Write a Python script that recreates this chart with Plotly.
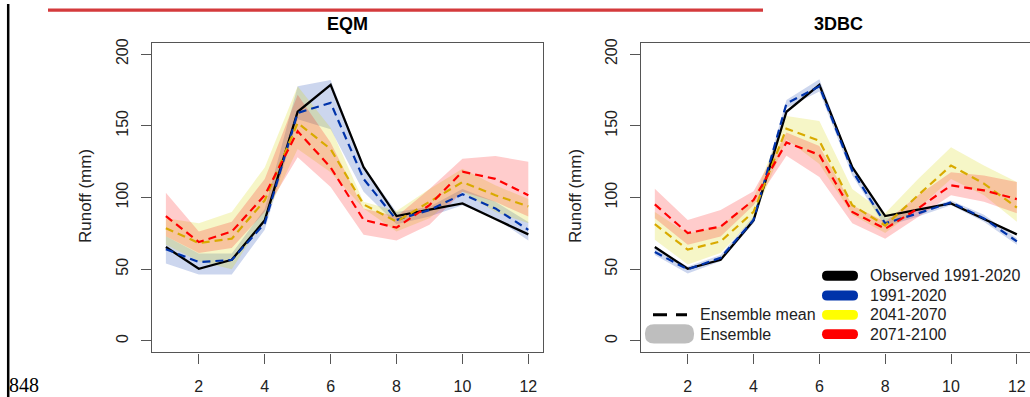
import plotly.graph_objects as go

W, H = 1030, 397

months = list(range(1, 13))
x_ticks = [2, 4, 6, 8, 10, 12]
y_ticks = [0, 50, 100, 150, 200]
panel_titles = ["EQM", "3DBC"]
y_label = "Runoff (mm)"
legend_periods = ["Observed 1991-2020", "1991-2020", "2041-2070", "2071-2100"]
legend_types = ["Ensemble mean", "Ensemble"]
page_number = "848"

observed = [65.5, 50.3, 56.6, 84.1, 159.8, 178.6, 121.1, 87.1, 91.5, 95.9, 85.0, 74.3]

# EQM
eqm_hist_mean = [64, 55, 56.5, 82, 159, 166, 113, 84.4, 91.3, 102.3, 92.4, 77.5]
eqm_hist_hi = [73, 61, 61, 92, 177.5, 182, 122, 90, 93.5, 106, 97, 83]
eqm_hist_lo = [54, 46.4, 46.4, 77.5, 154.5, 147.6, 104, 81.4, 86.7, 94.7, 85.5, 70]
eqm_mid_mean = [78.6, 68.3, 71.3, 98, 152, 133.8, 95.2, 83.2, 97, 110.8, 101.6, 93.8]
eqm_mid_hi = [85.5, 82, 90, 121, 177.5, 148.7, 97, 90.6, 106, 120, 108.5, 99]
eqm_mid_lo = [67, 55.6, 50, 85.5, 133.8, 117.7, 92.4, 76.3, 85.5, 104, 90, 82]
eqm_fut_mean = [87, 69, 76.3, 101.6, 146.2, 121, 84.4, 79, 94.7, 118, 113, 101.6]
eqm_fut_hi = [103.4, 76.3, 83.2, 113, 171.7, 138.4, 92.4, 86.7, 106, 127, 129, 125]
eqm_fut_lo = [73, 61.4, 64.8, 90, 128, 107.4, 74, 70, 81, 104, 97, 86.7]

# 3DBC
dbc_hist_mean = [62, 49.9, 58, 84.4, 165.5, 177.5, 118.6, 82, 89, 96.6, 85.5, 69.4]
dbc_hist_hi = [65, 52, 60, 86.7, 168, 182.5, 122, 85.5, 91.3, 98, 88, 71.7]
dbc_hist_lo = [60, 47, 55.6, 82, 162.5, 174, 115.4, 79.8, 86.7, 94.7, 83.2, 67]
dbc_mid_mean = [81.4, 63.7, 69.4, 90, 148, 139.5, 94.7, 80.5, 101.6, 122.3, 109.7, 93]
dbc_mid_hi = [90, 75, 79.8, 99.3, 156.8, 153.3, 106, 89, 113, 135, 122.3, 110.8]
dbc_mid_lo = [70.6, 53.3, 61.4, 85.5, 140.7, 123.4, 88, 75.2, 92.4, 113, 101.6, 83.2]
dbc_fut_mean = [95.2, 75.2, 79.8, 98.2, 138.4, 129.7, 90, 78.2, 92.4, 108.5, 105, 98.9]
dbc_fut_hi = [106.2, 84.4, 91.3, 104.4, 145.3, 136, 94.7, 83.2, 101.6, 117.7, 115.4, 110.8]
dbc_fut_lo = [85.5, 67, 72.9, 94.7, 129.2, 114.3, 82, 71.3, 86.7, 101.6, 97, 89]

C_BLUE = "#0033AA"
C_GOLD = "#D9AA00"
C_RED = "#FF0000"
BAND = {"hist": "rgba(0,51,170,0.2)", "mid": "rgba(215,215,0,0.22)", "fut": "rgba(255,0,0,0.2)"}
FONT = "Liberation Sans, Arial, sans-serif"
AXC = "#555555"


def px(x):
    return x / W


def py(y):
    return 1 - y / H


fig = go.Figure()

panels = [
    ("x", "y", [(eqm_hist_mean, eqm_hist_lo, eqm_hist_hi, "hist", C_BLUE),
                (eqm_mid_mean, eqm_mid_lo, eqm_mid_hi, "mid", C_GOLD),
                (eqm_fut_mean, eqm_fut_lo, eqm_fut_hi, "fut", C_RED)]),
    ("x2", "y2", [(dbc_hist_mean, dbc_hist_lo, dbc_hist_hi, "hist", C_BLUE),
                  (dbc_mid_mean, dbc_mid_lo, dbc_mid_hi, "mid", C_GOLD),
                  (dbc_fut_mean, dbc_fut_lo, dbc_fut_hi, "fut", C_RED)]),
]

for xa, ya, series in panels:
    for mean, lo, hi, key, col in series:
        fig.add_trace(go.Scatter(
            x=months + months[::-1], y=hi + lo[::-1], fill="toself",
            fillcolor=BAND[key], line=dict(width=0), mode="lines",
            hoverinfo="skip", showlegend=False, xaxis=xa, yaxis=ya))
    fig.add_trace(go.Scatter(
        x=months, y=observed, mode="lines", line=dict(color="black", width=2.3),
        showlegend=False, xaxis=xa, yaxis=ya))
    for mean, lo, hi, key, col in series:
        fig.add_trace(go.Scatter(
            x=months, y=mean, mode="lines",
            line=dict(color=col, width=2.2, dash="8px,5px"),
            showlegend=False, xaxis=xa, yaxis=ya))

ydom = [py(352), py(39)]
common_x = dict(tickvals=x_ticks, ticks="outside", ticklen=10, tickwidth=1.2, tickcolor=AXC,
                showline=True, linecolor=AXC, linewidth=1.4, mirror=True, showgrid=False,
                zeroline=False, tickfont=dict(family=FONT, size=16, color="#222"),
                ticklabelstandoff=9)
common_y = dict(tickvals=y_ticks, range=[-8, 208], ticks="outside", ticklen=10, tickwidth=1.2,
                tickcolor=AXC, showline=True, linecolor=AXC, linewidth=1.4, showgrid=False,
                zeroline=False, tickangle=-90, tickfont=dict(family=FONT, size=16, color="#222"),
                ticklabelstandoff=6, domain=ydom)

fig.update_layout(
    width=W, height=H, margin=dict(l=0, r=0, t=0, b=0),
    paper_bgcolor="white", plot_bgcolor="white", showlegend=False,
    xaxis=dict(domain=[px(151.7), px(542.5)], range=[0.57, 12.43], anchor="y", **common_x),
    yaxis=dict(anchor="x", mirror=True, **common_y),
    xaxis2=dict(domain=[px(640.7), 1.0], range=[0.571, 12.40], anchor="y2", **common_x),
    yaxis2=dict(anchor="x2", mirror=False, **common_y),
)

ann = []
for cx, t in zip([347, 838], panel_titles):
    ann.append(dict(x=px(cx), y=py(20), xref="paper", yref="paper", text="<b>%s</b>" % t,
                    showarrow=False, font=dict(family=FONT, size=18, color="black"),
                    xanchor="center", yanchor="middle"))
for cx in [85, 575]:
    ann.append(dict(x=px(cx), y=py(194), xref="paper", yref="paper", text=y_label,
                    showarrow=False, textangle=-90, font=dict(family=FONT, size=17, color="#222"),
                    xanchor="center", yanchor="middle"))
# legend texts
leg_y = [274.5, 294.5, 314, 333.5]
for yy, t in zip(leg_y, legend_periods):
    ann.append(dict(x=px(868), y=py(yy), xref="paper", yref="paper", text=t, showarrow=False,
                    font=dict(family=FONT, size=16, color="#222"), xanchor="left", yanchor="middle"))
for yy, t in zip([314, 333.5], legend_types):
    ann.append(dict(x=px(698), y=py(yy), xref="paper", yref="paper", text=t, showarrow=False,
                    font=dict(family=FONT, size=16, color="#222"), xanchor="left", yanchor="middle"))
ann.append(dict(x=px(7), y=py(384.5), xref="paper", yref="paper", text=page_number, showarrow=False,
                font=dict(family="Liberation Serif, Times New Roman, serif", size=20, color="black"),
                xanchor="left", yanchor="middle"))
fig.update_layout(annotations=ann)


def rrect(x0, x1, y0, y1, r):
    X = lambda v: "%.5f" % px(v)
    Y = lambda v: "%.5f" % py(v)
    return ("M %s,%s L %s,%s Q %s,%s %s,%s L %s,%s Q %s,%s %s,%s L %s,%s Q %s,%s %s,%s "
            "L %s,%s Q %s,%s %s,%s Z") % (
        X(x0 + r), Y(y0), X(x1 - r), Y(y0), X(x1), Y(y0), X(x1), Y(y0 + r),
        X(x1), Y(y1 - r), X(x1), Y(y1), X(x1 - r), Y(y1),
        X(x0 + r), Y(y1), X(x0), Y(y1), X(x0), Y(y1 - r),
        X(x0), Y(y0 + r), X(x0), Y(y0), X(x0 + r), Y(y0))


shapes = []
# top red rule and left page bar
shapes.append(dict(type="line", xref="paper", yref="paper", x0=px(48), x1=px(763), y0=py(6.2), y1=py(6.2),
                   line=dict(color="#D43A3C", width=3.2)))
shapes.append(dict(type="line", xref="paper", yref="paper", x0=px(8.2), x1=px(8.2), y0=0, y1=1,
                   line=dict(color="black", width=2.5)))
# legend swatches
for yy, col in zip(leg_y, ["black", C_BLUE, "#FFFF00", C_RED]):
    shapes.append(dict(type="path", xref="paper", yref="paper", path=rrect(822, 858, yy - 5, yy + 5, 5),
                       fillcolor=col, line=dict(width=0)))
shapes.append(dict(type="line", xref="paper", yref="paper", x0=px(653), x1=px(687), y0=py(314), y1=py(314),
                   line=dict(color="black", width=3, dash="14px,9px")))
shapes.append(dict(type="path", xref="paper", yref="paper", path=rrect(645, 694, 323.5, 343, 9),
                   fillcolor="#BEBEBE", line=dict(width=0)))
fig.update_layout(shapes=shapes)

fig.write_html("out.html", config={"displayModeBar": False},
               post_script="document.body.style.margin='0';document.body.style.overflow='hidden';")
